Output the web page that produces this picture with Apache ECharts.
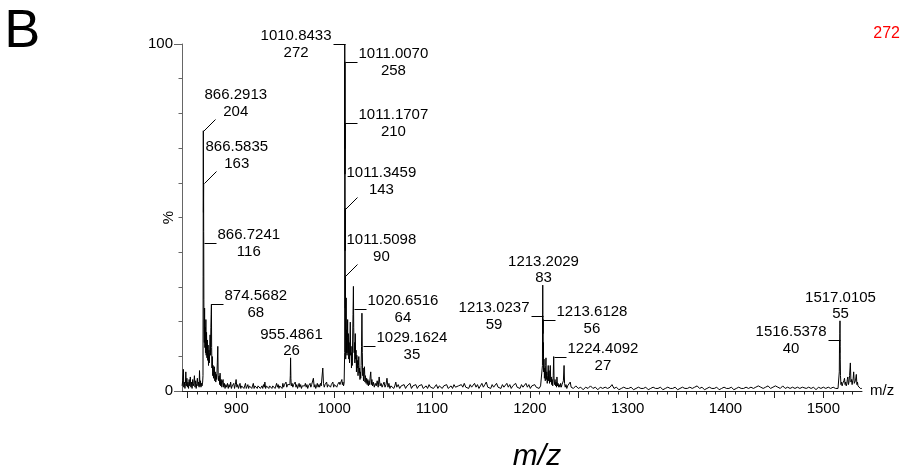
<!DOCTYPE html>
<html><head><meta charset="utf-8">
<script src="https://cdn.jsdelivr.net/npm/echarts@6/dist/echarts.min.js"></script>
<style>html,body{margin:0;padding:0;background:#fff}#c{width:901px;height:472px}</style>
</head><body><div id="c"></div>
<script>
// ---- spectrum data: [m/z, intensity counts] ----
const seg844 = [[844.6,4],[845.2,8],[845.9,17],[846.3,3],[846.9,7],[847.5,2],[848.0,6],[848.4,15],[848.9,4],[849.5,10],[850.0,3],[850.6,7],[851.2,2],[851.8,9],[852.4,4],[853.0,11],[853.6,3],[854.2,7],[854.8,2],[855.4,9],[856.0,4],[856.6,6],[857.2,12],[857.8,3],[858.4,8],[859.0,2],[859.6,6],[860.2,10],[860.8,4],[861.4,7],[862.0,3],[862.4,16],[862.9,4],[863.4,8],[863.9,3],[864.4,6],[865.0,4],[865.6,7],[865.95,12]];
const cluster866 = [[866.1,90],[866.2913,204],[866.42,140],[866.5835,163],[866.65,125],[866.7241,116],[866.85,72],[867.0,48],[867.3,38],[867.6,65],[867.9,34],[868.2,50],[868.5,30],[868.9,56],[869.2,28],[869.6,46],[870.0,26],[870.4,40],[870.8,24],[871.2,36],[871.6,20],[872.0,32],[872.4,22],[872.8,30],[873.2,44],[873.6,28],[874.0,50],[874.3,60],[874.5682,68],[874.8,34],[875.1,18],[875.5,27],[875.9,12],[876.3,20],[876.7,10],[877.1,17],[877.6,19],[878.0,8],[878.5,15],[879.0,7],[879.5,13],[880.0,9],[880.6,22],[881.1,35],[881.5,12],[882.0,8],[882.5,12],[883.0,5],[883.4,14],[884.0,4],[884.6,9],[885.2,3],[885.8,7],[886.5,9],[887.1,3],[887.8,6]];
const base890 = [[888.5,2],[889.3,5],[890.2,3],[891.0,6],[891.8,2],[892.6,5],[893.4,3],[894.2,7],[895.0,2],[895.8,4],[896.6,3],[897.4,6],[898.2,2],[899.0,5],[899.8,9],[900.6,3],[901.4,5],[902.2,2],[903.0,4],[903.8,6],[904.6,2],[905.4,4],[906.2,3],[907.0,5],[907.8,2],[908.6,4],[909.4,6],[910.2,2],[911.0,3],[911.8,5],[912.6,2],[913.4,4],[914.2,3],[915.0,5],[915.8,2],[916.6,3],[917.4,6],[918.2,2],[919.0,4],[919.8,3],[920.6,5],[921.4,2],[922.2,4],[923.0,3],[923.8,5],[924.6,2],[925.4,3],[926.2,4],[927.0,2],[927.8,5],[928.6,3],[929.2,7],[930.0,2],[930.8,4],[931.6,3],[932.4,5],[933.2,2],[934.0,4],[934.8,3],[935.6,5],[936.4,2],[937.2,4],[938.0,3],[938.8,5],[939.6,2],[940.4,4],[941.2,6],[942.0,3],[942.8,5],[943.6,2],[944.4,4],[945.2,3],[946.0,5],[946.8,2],[947.6,6],[948.4,3],[949.2,5],[950.0,4],[950.8,7],[951.6,3],[952.4,5],[953.2,4],[954.0,6],[954.8,5],[955.2,12],[955.4861,26],[955.8,10],[956.2,4],[957.0,6],[957.8,3],[958.6,5],[959.4,4],[960.2,7],[961.0,3],[961.8,5],[962.6,2],[963.4,4],[964.2,6],[965.0,3],[965.8,5],[966.6,2],[967.4,4],[968.2,3],[969.0,5],[969.8,4],[970.6,6],[971.4,3],[972.2,5],[973.0,2],[973.8,4],[974.6,3],[975.4,6],[976.2,3],[977.0,5],[977.8,4],[978.8,10],[979.6,3],[980.4,5],[981.2,2],[982.0,4],[982.8,6],[983.6,3],[984.4,5],[985.2,3],[986.0,6],[986.8,4],[987.6,5],[988.4,18],[989.1,6],[989.9,3],[990.7,5],[991.5,4],[992.3,7],[993.1,3],[993.9,5],[994.7,4],[995.5,6],[996.3,3],[997.1,5],[997.9,4],[998.7,7],[999.5,3],[1000.3,5],[1001.1,4],[1001.9,6],[1002.7,3],[1003.5,5],[1004.3,4],[1005.1,7],[1005.9,5],[1006.7,6],[1007.5,4],[1007.9,9],[1008.4,5],[1009.0,7],[1009.6,4],[1010.2,6],[1010.6,5]];
const cluster1011 = [[1010.75,30],[1010.8433,272],[1010.92,190],[1011.007,258],[1011.09,170],[1011.1707,210],[1011.26,110],[1011.3459,143],[1011.43,65],[1011.5098,90],[1011.6,40],[1011.7,55],[1011.8,25],[1012.0,45],[1012.3,73],[1012.6,30],[1012.9,48],[1013.2,28],[1013.5,42],[1013.8,56],[1014.1,30],[1014.5,45],[1014.9,25],[1015.3,38],[1015.7,22],[1016.1,40],[1016.5,54],[1016.9,28],[1017.3,35],[1017.7,18],[1018.1,30],[1018.5,20],[1018.9,40],[1019.3,60],[1019.7,82],[1020.0,50],[1020.4,30],[1020.8,38],[1021.2,22],[1021.6,45],[1022.0,25],[1022.4,32],[1022.8,15],[1023.2,28],[1023.6,18],[1024.0,24],[1024.4,12],[1024.8,20],[1025.2,27],[1025.6,14],[1026.0,18],[1026.4,9],[1026.8,15],[1027.2,10],[1027.6,20],[1028.0,35],[1028.4,61],[1028.8,30],[1029.2,12],[1029.6,18],[1030.0,8],[1030.5,14],[1031.0,19],[1031.5,7],[1032.0,12],[1032.6,6],[1033.2,10],[1033.8,5],[1034.4,9],[1035.0,4],[1035.6,8],[1036.2,5],[1036.8,11],[1037.4,15],[1038.0,5],[1038.6,9],[1039.2,4],[1040,7],[1041,3],[1042,6],[1043,4],[1044,8],[1045,3],[1046,11],[1047,4],[1048,6],[1049,3],[1050,5],[1051,7],[1052,3],[1053,5],[1054,10],[1055,3],[1056,6],[1057,2],[1058,4],[1059,3],[1060,5],[1061,2],[1062,4],[1063,7]];
const base1064 = [[1064,3],[1065.5,5],[1067,2],[1068.5,4],[1070,3],[1071.5,5],[1073,2],[1074.5,4],[1076,3],[1077.5,6],[1079,2],[1080.5,4],[1082,3],[1083.5,5],[1085,2],[1086.5,4],[1088,3],[1089.5,5],[1091,2],[1092.5,3],[1094,4],[1095.5,2],[1097,5],[1098.5,3],[1100,4],[1101.5,2],[1103,3],[1104.5,5],[1106,2],[1107.5,4],[1109,3],[1110.5,2],[1112,4],[1113.5,3],[1115,5],[1116.5,2],[1118,3],[1119.5,4],[1121,2],[1122.5,5],[1124,3],[1125.5,2],[1127,4],[1128.5,3],[1130,5],[1131.5,3],[1133,6],[1134.5,3],[1136,4],[1137.5,2],[1139,5],[1140.5,3],[1142,4],[1143.5,6],[1145,3],[1146.5,5],[1148,2],[1149.5,4],[1151,6],[1152.5,3],[1154,5],[1155.5,7],[1157,3],[1158.5,4],[1160,2],[1161.5,5],[1163,3],[1164.5,4],[1166,6],[1167.5,3],[1169,4],[1170.5,2],[1172,5],[1173.5,3],[1175,4],[1176.5,6],[1178,3],[1179.5,5],[1181,2],[1182.5,4],[1184,3],[1185.5,6],[1187,3],[1188.5,4],[1190,2],[1191.5,5],[1193,3],[1194.5,4],[1196,6],[1197.5,3],[1199,5],[1200.5,2],[1202,4],[1203.5,3],[1205,5],[1206.5,3],[1208,4],[1209.5,2],[1211,4]];
const cluster1213 = [[1212.0,3],[1212.6,5],[1212.9,20],[1213.0237,59],[1213.1,50],[1213.2029,83],[1213.3,60],[1213.45,45],[1213.6128,56],[1213.75,30],[1213.9,38],[1214.1,15],[1214.5,25],[1214.9,10],[1215.3,18],[1215.8,8],[1216.2,20],[1216.5,26],[1216.9,9],[1217.3,15],[1217.8,6],[1218.3,12],[1218.8,20],[1219.2,8],[1219.7,16],[1220.1,6],[1220.6,14],[1220.9,20],[1221.4,7],[1221.9,11],[1222.4,5],[1222.9,9],[1223.4,4],[1223.9,12],[1224.4092,27],[1224.8,8],[1225.3,5],[1225.8,9],[1226.3,4],[1226.8,7],[1227.3,3],[1227.7,11],[1228.3,4],[1228.9,6],[1229.5,3],[1230.1,5],[1230.8,3],[1231.5,6],[1232.2,3],[1232.9,5],[1233.6,4],[1234.3,8],[1235.0,20],[1235.5,6],[1236.2,3],[1237.0,5],[1237.8,2],[1238.6,4],[1239.4,3],[1240.2,5],[1241.3,7]];
const base1242 = [[1242.2,3],[1244.5,2],[1247,4],[1249.5,2],[1252,3],[1254.5,1],[1257,3],[1259.5,2],[1262,4],[1264.5,2],[1267,3],[1269.5,1],[1272,3],[1274.5,2],[1277,3],[1279.5,2],[1282,3],[1284,5],[1286,2],[1288.5,3],[1291,1],[1293.5,2],[1296,3],[1298.5,2],[1301,2],[1303.5,3],[1306,1],[1308.5,2],[1311,3],[1313.5,2],[1316,2],[1318.5,3],[1321,1],[1323.5,2],[1326,3],[1328.5,2],[1331,2],[1333.5,3],[1336,1],[1338.5,2],[1341,3],[1343.5,2],[1346,2],[1348.5,3],[1351,1],[1353.5,2],[1356,3],[1358.5,2],[1361,2],[1363.5,3],[1366,2],[1368.5,3],[1371,4],[1373.5,2],[1376,3],[1378.5,1],[1381,2],[1383.5,3],[1386,2],[1388.5,2],[1391,3],[1393.5,1],[1396,2],[1398.5,3],[1401,2],[1403.5,2],[1406,3],[1408.5,1],[1411,2],[1413.5,3],[1416,2],[1418.5,2],[1421,3],[1423.5,2],[1426,3],[1428.5,2],[1431,3],[1433.5,4],[1436,3],[1438.5,2],[1441,3],[1443.5,4],[1446,2],[1448.5,3],[1451,4],[1453.5,3],[1456,2],[1458.5,4],[1461,2],[1463.5,3],[1466,2],[1468.5,3],[1471,2],[1473.5,3],[1476,2],[1478.5,3],[1480,4],[1482.5,2],[1485,3],[1487.5,2],[1490,3],[1492.5,1],[1495,3],[1497.5,2],[1500,3],[1502.5,2],[1505,3],[1507.5,2],[1510,3],[1512.5,2],[1515,2]];
const cluster1517 = [[1515.5,2],[1516.0,3],[1516.3,15],[1516.5378,40],[1516.7,30],[1516.85,45],[1517.0105,55],[1517.15,35],[1517.3,25],[1517.5,12],[1518.0,5],[1518.6,7],[1519.2,4],[1519.8,6],[1520.4,5],[1521.0,8],[1521.6,10],[1522.2,5],[1522.8,7],[1523.4,4],[1524.0,6],[1524.5,9],[1525.0,11],[1525.6,5],[1526.2,7],[1526.8,12],[1527.6,22],[1528.2,7],[1528.8,9],[1529.4,5],[1530.0,8],[1530.5,10],[1531.0,15],[1531.6,6],[1532.2,5],[1532.8,8],[1533.3,9],[1533.7,13],[1534.3,5],[1534.9,7],[1535.4,4],[1536.0,5],[1536.6,3],[1537.2,4],[1537.8,2],[1538.5,3],[1539.3,2]];

// ---- annotated peaks ----
const annMz  = [866.2913, 866.5835, 866.7241, 874.5682, 955.4861, 1010.8433, 1011.0070, 1011.1707, 1011.3459, 1011.5098, 1020.6516, 1029.1624, 1213.2029, 1213.0237, 1213.6128, 1224.4092, 1517.0105, 1516.5378];
const annInt = [204, 163, 116, 68, 26, 272, 258, 210, 143, 90, 64, 35, 83, 59, 56, 27, 55, 40];
const basePeakIntensity = 272;

// ---- axis ticks / labels ----
const xLabelValues = [900, 1000, 1100, 1200, 1300, 1400, 1500];
const xMajorTicks = [850, 900, 950, 1000, 1050, 1100, 1150, 1200, 1250, 1300, 1350, 1400, 1450, 1500];
const xMinorTicks = [850,860,870,880,890,900,910,920,930,940,950,960,970,980,990,1000,1010,1020,1030,1040,1050,1060,1070,1080,1090,1100,1110,1120,1130,1140,1150,1160,1170,1180,1190,1200,1210,1220,1230,1240,1250,1260,1270,1280,1290,1300,1310,1320,1330,1340,1350,1360,1370,1380,1390,1400,1410,1420,1430,1440,1450,1460,1470,1480,1490,1500,1510,1520,1530];
const yTickPercents = [0, 10, 20, 30, 40, 50, 60, 70, 80, 90, 100];
const yLabelPercents = [0, 100];

// ---- rendering ----
const spectrum = [].concat(seg844, cluster866, base890, cluster1011, base1064, cluster1213, base1242, cluster1517);
const pctToCount = p => p * basePeakIntensity / 100;
const FAMILY = '"Liberation Sans", Arial, Helvetica, sans-serif';
const FS = 15;
const mctx = document.createElement('canvas').getContext('2d');
mctx.font = FS + 'px ' + FAMILY;
const tw = s => mctx.measureText(s).width;
// label placement per annotation (layout only)
const LABEL_SIDE = ['D','D','R','R','T','L','R','R','D','D','R','R','T','L','R','R','T','L'];

function txt(x, y, s) {
  return { type: 'text', x: x, y: y, style: { text: s, fill: '#000', font: FS + 'px ' + FAMILY,
    fontSize: FS, fontFamily: FAMILY, align: 'center', verticalAlign: 'middle',
    textAlign: 'center', textVerticalAlign: 'middle' } };
}

function renderAnn(params, api) {
  const i = params.dataIndex;
  const p = api.coord([api.value(0), api.value(1)]);
  const x = Math.round(p[0]) + 0.5, y = Math.round(p[1]) + 0.5;
  const t1 = annMz[i].toFixed(4), t2 = String(annInt[i]);
  const w = Math.max(tw(t1), tw(t2));
  let x2, y2, cx, cy1, cy2, line = true;
  switch (LABEL_SIDE[i]) {
    case 'R': x2 = x + 12; y2 = y; cx = x2 + 1 + w / 2; cy1 = y - 8.5; cy2 = y + 8.5; break;
    case 'L': x2 = x - 12; y2 = y; cx = x2 - 2 - w / 2; cy1 = y - 8.5; cy2 = y + 8.5; break;
    case 'D': x2 = x + 12; y2 = y - 12; cx = x + 1 + w / 2; cy1 = y2 - 25; cy2 = y2 - 8; break;
    default: line = false; cx = x; cy1 = y - 24; cy2 = y - 8;
  }
  const children = [txt(cx, cy1, t1), txt(cx, cy2, t2)];
  if (line) children.push({ type: 'line', shape: { x1: x, y1: y, x2: x2, y2: y2 }, style: { stroke: '#000', lineWidth: 1 } });
  return { type: 'group', children: children };
}

const chart = echarts.init(document.getElementById('c'), null, { renderer: 'canvas' });
const X_MIN = 844.5, X_MAX = 1539.5;
chart.setOption({
  animation: false,
  backgroundColor: '#fff',
  textStyle: { fontFamily: FAMILY },
  grid: { left: 182, right: 39, top: 44, bottom: 81, containLabel: false },
  xAxis: [
    { type: 'value', min: X_MIN, max: X_MAX, position: 'bottom',
      name: 'm/z', nameLocation: 'end', nameGap: 8,
      nameTextStyle: { color: '#000', fontSize: 15, fontFamily: FAMILY },
      axisLine: { show: true, lineStyle: { color: '#222', width: 1 } },
      axisTick: { show: true, customValues: xMajorTicks, length: 7, lineStyle: { color: '#222' } },
      axisLabel: { show: true, customValues: xLabelValues, margin: 10, color: '#000', fontSize: 15, fontFamily: FAMILY,
        formatter: v => String(Math.round(v)) },
      splitLine: { show: false } },
    { type: 'value', min: X_MIN, max: X_MAX, position: 'bottom', offset: 0,
      axisLine: { show: false },
      axisTick: { show: true, customValues: xMinorTicks, length: 3.5, lineStyle: { color: '#222' } },
      axisLabel: { show: false }, splitLine: { show: false } }
  ],
  yAxis: [
    { type: 'value', min: 0, max: basePeakIntensity, position: 'left',
      axisLine: { show: true, lineStyle: { color: '#666', width: 1 } },
      axisTick: { show: true, customValues: yTickPercents.map(pctToCount), length: 3.5, lineStyle: { color: '#666' } },
      axisLabel: { show: false }, splitLine: { show: false } },
    { type: 'value', min: 0, max: basePeakIntensity, position: 'left', offset: 0,
      axisLine: { show: false },
      axisTick: { show: true, customValues: yLabelPercents.map(pctToCount), length: 8, lineStyle: { color: '#666' } },
      axisLabel: { show: true, customValues: yLabelPercents.map(pctToCount), margin: 9, color: '#000', fontSize: 15, fontFamily: FAMILY,
        formatter: v => String(Math.round(v * 100 / basePeakIntensity)) },
      splitLine: { show: false } }
  ],
  graphic: [
    { type: 'text', x: 4.3, y: 32.5, style: { text: 'B', fill: '#000', font: '54px ' + FAMILY, verticalAlign: 'middle', align: 'left' } },
    { type: 'text', x: 900, y: 34, style: { text: String(basePeakIntensity), fill: '#ff0000', font: '16px ' + FAMILY, verticalAlign: 'middle', align: 'right' } },
    { type: 'text', x: 169, y: 217.5, rotation: Math.PI / 2, style: { text: '%', fill: '#000', font: '15px ' + FAMILY, verticalAlign: 'middle', align: 'center' } },
    { type: 'text', x: 537, y: 457, style: { text: 'm/z', fill: '#000', font: 'italic 30px ' + FAMILY, verticalAlign: 'middle', align: 'center' } }
  ],
  series: [
    { type: 'line', xAxisIndex: 0, yAxisIndex: 0, data: spectrum, showSymbol: false, symbol: 'none',
      lineStyle: { color: '#000', width: 1 }, itemStyle: { color: '#000' }, clip: true, silent: true, z: 2 },
    { type: 'custom', xAxisIndex: 0, yAxisIndex: 0, coordinateSystem: 'cartesian2d', clip: false, silent: true, z: 3,
      data: annMz.map((m, i) => [m, annInt[i]]), renderItem: renderAnn }
  ]
});
</script></body></html>
